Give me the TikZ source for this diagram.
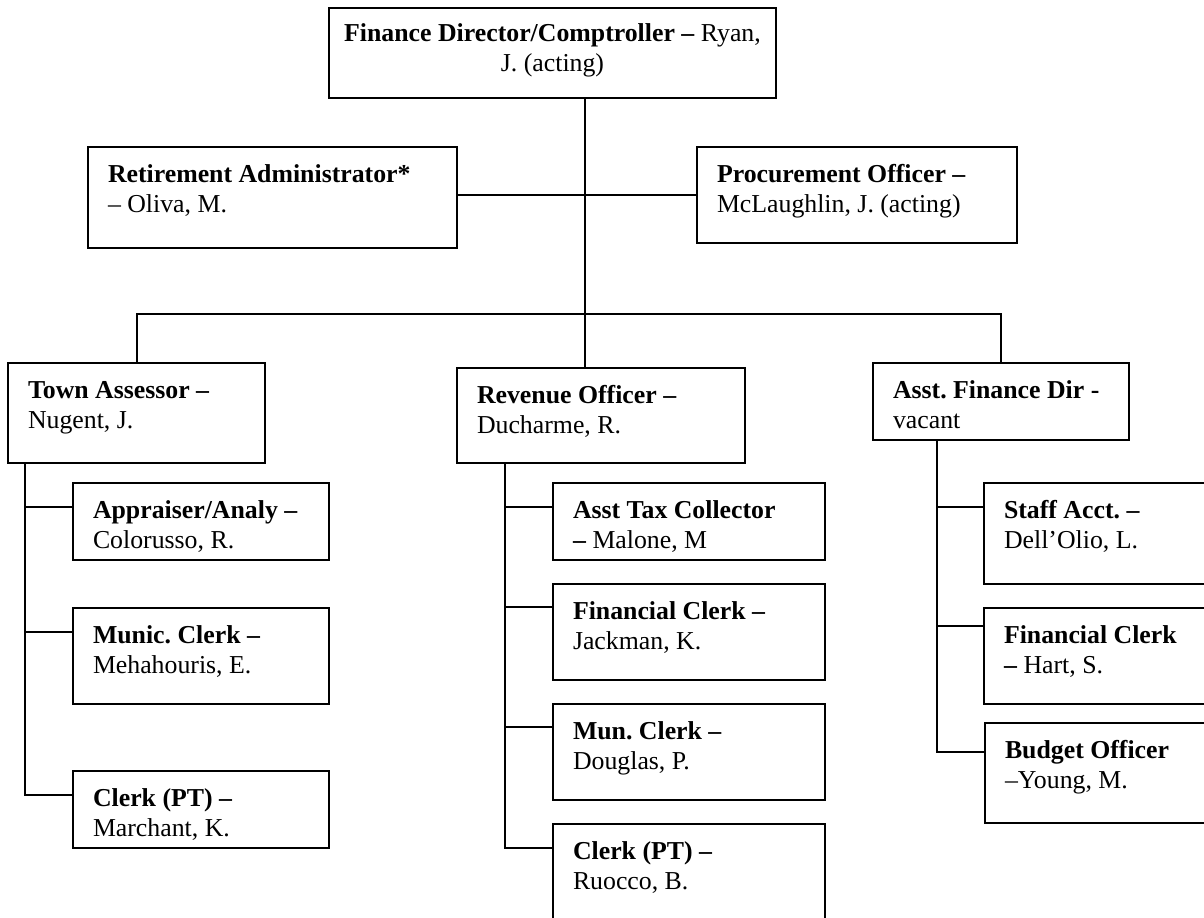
\documentclass[tikz,border=0pt]{standalone}
\usepackage{fontspec}
\setmainfont{Liberation Serif}
\frenchspacing
\tikzset{
  box/.style={draw, line width=1pt, rectangle, inner sep=0pt, outer sep=0pt, fill=white},
  txt/.style={anchor=north west, inner sep=0pt, outer sep=0pt, align=left, font=\fontsize{12.9}{15}\selectfont\frenchspacing},
  conn/.style={line width=1pt}
}
\newcommand{\obox}[6]{%
  \node[box, minimum width={(#4-#2)*0.5pt}, minimum height={(#5-#3)*0.5pt}] (#1) at ({(#2+#4)/2},{(#3+#5)/2}) {};
  \node[txt] (#1t) at ([shift={(20,14)}]#1.north west) {\strut #6};
}
\begin{document}
\begin{tikzpicture}[x=0.5pt,y=-0.5pt]
\useasboundingbox (0,0) rectangle (1204,917);
\clip (0,0) rectangle (1204,917);
% coordinates for connectors
\coordinate (sp) at (585,0);
\coordinate (h1) at (0,195);
\coordinate (bus) at (585,314);
\coordinate (tL) at (25,0);
\coordinate (tR) at (505,0);
\coordinate (tA) at (937,0);
% boxes
\node[box, minimum width={447*0.5pt}, minimum height={90*0.5pt}] (top) at (552.5,53) {};
\node[txt, anchor=north, align=center] (topt) at ([shift={(0,12)}]top.north) {\strut\textbf{Finance Director/Comptroller –} Ryan,\\J. (acting)};
\obox{ret}{88}{147}{457}{248}{\textbf{Retirement Administrator*}\\– Oliva, M.}
\obox{proc}{697}{147}{1017}{243}{\textbf{Procurement Officer –}\\McLaughlin, J. (acting)}
\obox{town}{8}{363}{265}{463}{\textbf{Town Assessor –}\\Nugent, J.}
\obox{rev}{457}{368}{745}{463}{\textbf{Revenue Officer –}\\Ducharme, R.}
\obox{asst}{873}{363}{1129}{440}{\textbf{Asst. Finance Dir -}\\vacant}
\obox{appr}{73}{483}{329}{560}{\textbf{Appraiser/Analy –}\\Colorusso, R.}
\obox{munic}{73}{608}{329}{704}{\textbf{Munic. Clerk –}\\Mehahouris, E.}
\obox{clerkL}{73}{771}{329}{848}{\textbf{Clerk (PT) –}\\Marchant, K.}
\obox{atc}{553}{483}{825}{560}{\textbf{Asst Tax Collector}\\\textbf{–} Malone, M}
\obox{fca}{553}{584}{825}{680}{\textbf{Financial Clerk –}\\Jackman, K.}
\obox{mun}{553}{704}{825}{800}{\textbf{Mun. Clerk –}\\Douglas, P.}
\obox{clerkR}{553}{824}{825}{950}{\textbf{Clerk (PT) –}\\Ruocco, B.}
\obox{staff}{984}{483}{1256}{584}{\textbf{Staff Acct. –}\\Dell’Olio, L.}
\obox{fcb}{984}{608}{1256}{704}{\textbf{Financial Clerk}\\\textbf{–} Hart, S.}
\obox{budget}{985}{723}{1256}{823}{\textbf{Budget Officer}\\–Young, M.}
% sub-tree branch levels
\coordinate (a1) at (0,507); \coordinate (a2) at (0,632); \coordinate (a3) at (0,795);
\coordinate (r1) at (0,507); \coordinate (r2) at (0,607); \coordinate (r3) at (0,727); \coordinate (r4) at (0,848);
\coordinate (s1) at (0,507); \coordinate (s2) at (0,626); \coordinate (s3) at (0,752);
% top-level connectors
\draw[conn] (top.south -| sp) -- (rev.north -| sp);
\draw[conn] (ret.east |- h1) -- (proc.west |- h1);
\draw[conn] (town.north) |- (bus) -| (asst.north);
% left sub-tree
\draw[conn] (town.south -| tL) |- (clerkL.west |- a3);
\draw[conn] (tL |- a1) -- (appr.west |- a1);
\draw[conn] (tL |- a2) -- (munic.west |- a2);
% middle sub-tree
\draw[conn] (rev.south -| tR) |- (clerkR.west |- r4);
\draw[conn] (tR |- r1) -- (atc.west |- r1);
\draw[conn] (tR |- r2) -- (fca.west |- r2);
\draw[conn] (tR |- r3) -- (mun.west |- r3);
% right sub-tree
\draw[conn] (asst.south -| tA) |- (budget.west |- s3);
\draw[conn] (tA |- s1) -- (staff.west |- s1);
\draw[conn] (tA |- s2) -- (fcb.west |- s2);
\end{tikzpicture}
\end{document}
